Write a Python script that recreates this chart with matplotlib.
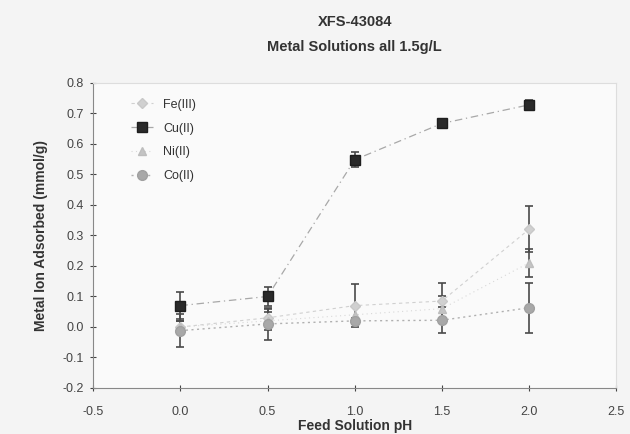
import numpy as np
import matplotlib.pyplot as plt

plt.rcParams['font.family'] = ['Liberation Sans', 'DejaVu Sans']

ph = [0.0, 0.5, 1.0, 1.5, 2.0]
names = ['Fe(III)', 'Cu(II)', 'Ni(II)', 'Co(II)']

fe = [0.00, 0.03, 0.07, 0.085, 0.32]
fe_err = [0.02, 0.03, 0.07, 0.06, 0.075]

cu = [0.07, 0.10, 0.548, 0.667, 0.728]
cu_err = [0.045, 0.03, 0.025, 0.01, 0.015]

ni = [0.00, 0.02, 0.04, 0.06, 0.21]
ni_err = [0.02, 0.03, 0.03, 0.04, 0.045]

co = [-0.012, 0.01, 0.02, 0.022, 0.063]
co_err = [0.055, 0.052, 0.01, 0.042, 0.082]

fig = plt.figure(figsize=(6.3, 4.34), dpi=100, facecolor='#f4f4f4')
ax = fig.add_axes([0.148, 0.106, 0.83, 0.703])
ax.set_facecolor('#fafafa')

errkw = dict(ecolor='#4a4a4a', elinewidth=1.2, capsize=3, capthick=1.2)

handles = []
h = ax.errorbar(ph, fe, yerr=fe_err, color='#d0d0d0', ls=(0, (3, 3)), lw=0.8,
                marker='D', ms=5, mec='#c8c8c8', mfc='#d0d0d0', **errkw)
handles.append(h[0])
h = ax.errorbar(ph, cu, yerr=cu_err, color='#a8a8a8', ls=(0, (6, 3, 1, 3)), lw=0.9,
                marker='s', ms=6.5, mec='#1e1e1e', mfc='#2a2a2a', **errkw)
handles.append(h[0])
h = ax.errorbar(ph, ni, yerr=ni_err, color='#d8d8d8', ls=(0, (1, 3)), lw=0.8,
                marker='^', ms=6, mec='#bdbdbd', mfc='#c4c4c4', **errkw)
handles.append(h[0])
h = ax.errorbar(ph, co, yerr=co_err, color='#b0b0b0', ls=(0, (1.5, 2.5)), lw=1.0,
                marker='o', ms=7, mec='#a0a0a0', mfc='#a8a8a8', **errkw)
handles.append(h[0])

ax.set_xlim(-0.5, 2.5)
ax.set_ylim(-0.2, 0.8)
ax.set_xticks(np.arange(-0.5, 2.51, 0.5))
ax.set_yticks(np.arange(-0.2, 0.81, 0.1))
ax.xaxis.set_major_formatter(plt.FormatStrFormatter('%.1f'))
ax.yaxis.set_major_formatter(plt.FormatStrFormatter('%.1f'))
ax.tick_params(labelsize=9, colors='#444444', length=4, width=0.8, direction='inout')
ax.tick_params(axis='x', pad=11)
ax.tick_params(axis='y', pad=5)

for side in ['left', 'bottom']:
    ax.spines[side].set_color('#888888')
for side in ['top', 'right']:
    ax.spines[side].set_color('#dddddd')

ax.set_xlabel('Feed Solution pH', fontsize=10, fontweight='bold', color='#333333', labelpad=1)
ax.set_ylabel('Metal Ion Adsorbed (mmol/g)', fontsize=10, fontweight='bold', color='#333333', labelpad=10)
ax.set_title('XFS-43084\nMetal Solutions all 1.5g/L', fontsize=10.5, fontweight='bold',
             color='#333333', pad=23, linespacing=2.0)

leg = ax.legend(handles, names, loc='upper left', bbox_to_anchor=(0.05, 0.985), frameon=False,
                fontsize=9, labelspacing=0.95, handlelength=1.8, handletextpad=0.8)
for t in leg.get_texts():
    t.set_color('#333333')

fig.savefig('out.png', dpi=100, facecolor=fig.get_facecolor())
